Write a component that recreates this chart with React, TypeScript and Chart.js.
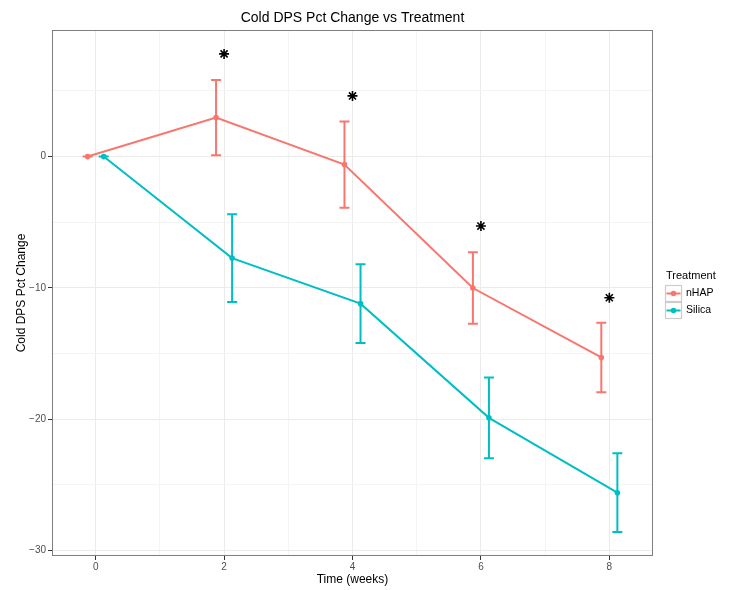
import React, { useEffect, useRef } from "react";
import { Chart, registerables } from "chart.js";

Chart.register(...registerables);

// ---- data ----
const weeks = [0, 2, 4, 6, 8];
const seriesNames = ["nHAP", "Silica"];
const nhapMean = [0, 2.97, -0.61, -10.01, -15.3];
const nhapErr = [0, 2.87, 3.28, 2.73, 2.65];
const silicaMean = [0, -7.73, -11.2, -19.9, -25.6];
const silicaErr = [0, 3.34, 3.0, 3.07, 3.0];
const starWeeks = [2, 4, 6, 8];
const starValues = [7.82, 4.62, -5.29, -10.75];
const dodge = 0.125;
const xMajorTicks = [0, 2, 4, 6, 8];
const xMinorTicks = [1, 3, 5, 7];
const yMajorTicks = [-30, -20, -10, 0];
const yMinorTicks = [-25, -15, -5, 5];

const colors = ["#F8766D", "#00BFC4"];
const FONT = "'Liberation Sans', Arial, Helvetica, sans-serif";

const errorBarPlugin = {
  id: "errorBars",
  beforeDatasetsDraw(chart: any) {
    const ctx = chart.ctx;
    const xs = chart.scales.x;
    const ys = chart.scales.y;
    chart.data.datasets.forEach((ds: any) => {
      if (!ds.errors) return;
      ctx.save();
      ctx.strokeStyle = ds.borderColor;
      ctx.lineWidth = 2;
      ds.data.forEach((p: any, i: number) => {
        const e = ds.errors[i];
        const px = xs.getPixelForValue(p.x);
        const top = ys.getPixelForValue(p.y + e);
        const bot = ys.getPixelForValue(p.y - e);
        const hw = 5;
        ctx.beginPath();
        ctx.moveTo(px, top);
        ctx.lineTo(px, bot);
        ctx.moveTo(px - hw, top);
        ctx.lineTo(px + hw, top);
        ctx.moveTo(px - hw, bot);
        ctx.lineTo(px + hw, bot);
        ctx.stroke();
      });
      ctx.restore();
    });
  },
};

const decorPlugin = {
  id: "decor",
  afterDraw(chart: any) {
    const ctx = chart.ctx;
    const a = chart.chartArea;
    ctx.save();
    // panel border
    ctx.strokeStyle = "#7f7f7f";
    ctx.lineWidth = 1;
    ctx.strokeRect(a.left + 0.5, a.top + 0.5, a.right - a.left - 1, a.bottom - a.top - 1);
    // title
    ctx.fillStyle = "#000";
    ctx.font = `14px ${FONT}`;
    ctx.textAlign = "center";
    ctx.textBaseline = "middle";
    ctx.fillText("Cold DPS Pct Change vs Treatment", (a.left + a.right) / 2, 18);
    // legend
    const lx = a.right + 12;
    ctx.textAlign = "left";
    ctx.font = `11px ${FONT}`;
    ctx.fillText("Treatment", lx + 1, 276);
    const box = 17;
    seriesNames.forEach((name, i) => {
      const by = 285 + i * box;
      ctx.fillStyle = "#ffffff";
      ctx.fillRect(lx, by, box, box);
      ctx.strokeStyle = "#cccccc";
      ctx.lineWidth = 1.2;
      ctx.strokeRect(lx + 0.5, by + 0.5, box - 1, box - 1);
      ctx.strokeStyle = colors[i];
      ctx.lineWidth = 2;
      ctx.beginPath();
      ctx.moveTo(lx + 1.5, by + box / 2);
      ctx.lineTo(lx + box - 1.5, by + box / 2);
      ctx.stroke();
      ctx.fillStyle = colors[i];
      ctx.beginPath();
      ctx.arc(lx + box / 2, by + box / 2, 2.8, 0, Math.PI * 2);
      ctx.fill();
      ctx.fillStyle = "#000";
      ctx.font = `10.5px ${FONT}`;
      ctx.textBaseline = "middle";
      ctx.fillText(name, lx + box + 4, by + box / 2);
    });
    ctx.restore();
  },
};

const fmt = (v: number) => (v < 0 ? "\u2212" + String(-v) : String(v));

export default function App() {
  const ref = useRef<HTMLCanvasElement>(null);
  useEffect(() => {
    document.body.style.margin = "0";
    const canvas = ref.current!;
    const means = [nhapMean, silicaMean];
    const errs = [nhapErr, silicaErr];
    const offs = [-dodge, dodge];
    const datasets: any[] = seriesNames.map((name, s) => ({
      label: name,
      data: weeks.map((w, i) => ({ x: w + offs[s], y: means[s][i] })),
      errors: errs[s],
      borderColor: colors[s],
      backgroundColor: colors[s],
      borderWidth: 2,
      pointRadius: 2.8,
      pointBorderWidth: 0,
      pointHoverRadius: 2.8,
      tension: 0,
      fill: false,
    }));
    datasets.push({
      label: "sig",
      data: starWeeks.map((w, i) => ({ x: w, y: starValues[i] })),
      showLine: false,
      pointStyle: "star",
      pointRadius: 5,
      pointBorderWidth: 1.6,
      borderColor: "#000",
      backgroundColor: "#000",
      pointHoverRadius: 5,
    });
    const isMajorX = (v: number) => xMajorTicks.includes(v);
    const isMajorY = (v: number) => yMajorTicks.includes(v);
    const chart = new Chart(canvas, {
      type: "line",
      data: { datasets },
      plugins: [errorBarPlugin, decorPlugin],
      options: {
        animation: false,
        responsive: false,
        maintainAspectRatio: false,
        events: [],
        layout: { padding: { left: 0, top: 30, right: 101, bottom: 0 } },
        plugins: {
          legend: { display: false },
          title: { display: false },
          tooltip: { enabled: false },
        },
        scales: {
          x: {
            type: "linear",
            min: -0.68,
            max: 8.68,
            afterBuildTicks: (scale: any) => {
              scale.ticks = [...xMajorTicks, ...xMinorTicks]
                .sort((a, b) => a - b)
                .map((v) => ({ value: v }));
            },
            afterFit: (scale: any) => {
              scale.height = 34;
            },
            border: { display: false },
            grid: {
              color: (c: any) => (isMajorX(c.tick?.value) ? "#ebebeb" : "#f4f4f4"),
              tickColor: (c: any) => (isMajorX(c.tick?.value) ? "#333333" : "rgba(0,0,0,0)"),
              tickLength: 4,
              lineWidth: 1,
            },
            ticks: {
              autoSkip: false,
              maxRotation: 0,
              padding: 1,
              color: "#4d4d4d",
              font: { family: FONT, size: 10 },
              callback: (v: any) => (isMajorX(Number(v)) ? fmt(Number(v)) : ""),
            },
            title: {
              display: true,
              text: "Time (weeks)",
              color: "#000",
              font: { family: FONT, size: 12 },
              padding: { top: 0, bottom: 3 },
            },
          },
          y: {
            type: "linear",
            min: -30.42,
            max: 9.64,
            afterBuildTicks: (scale: any) => {
              scale.ticks = [...yMajorTicks, ...yMinorTicks]
                .sort((a, b) => a - b)
                .map((v) => ({ value: v }));
            },
            afterFit: (scale: any) => {
              scale.width = 52;
            },
            border: { display: false },
            grid: {
              color: (c: any) => (isMajorY(c.tick?.value) ? "#ebebeb" : "#f4f4f4"),
              tickColor: (c: any) => (isMajorY(c.tick?.value) ? "#333333" : "rgba(0,0,0,0)"),
              tickLength: 4,
              lineWidth: 1,
            },
            ticks: {
              autoSkip: false,
              padding: 2,
              color: "#4d4d4d",
              font: { family: FONT, size: 10 },
              callback: (v: any) => (isMajorY(Number(v)) ? fmt(Number(v)) : ""),
            },
            title: {
              display: true,
              text: "Cold DPS Pct Change",
              color: "#000",
              font: { family: FONT, size: 12 },
              padding: { top: 14, bottom: 0 },
            },
          },
        },
      } as any,
    });
    return () => chart.destroy();
  }, []);
  return (
    <div style={{ width: 754, height: 590 }}>
      <canvas ref={ref} width={754} height={590} style={{ width: 754, height: 590, display: "block" }} />
    </div>
  );
}
